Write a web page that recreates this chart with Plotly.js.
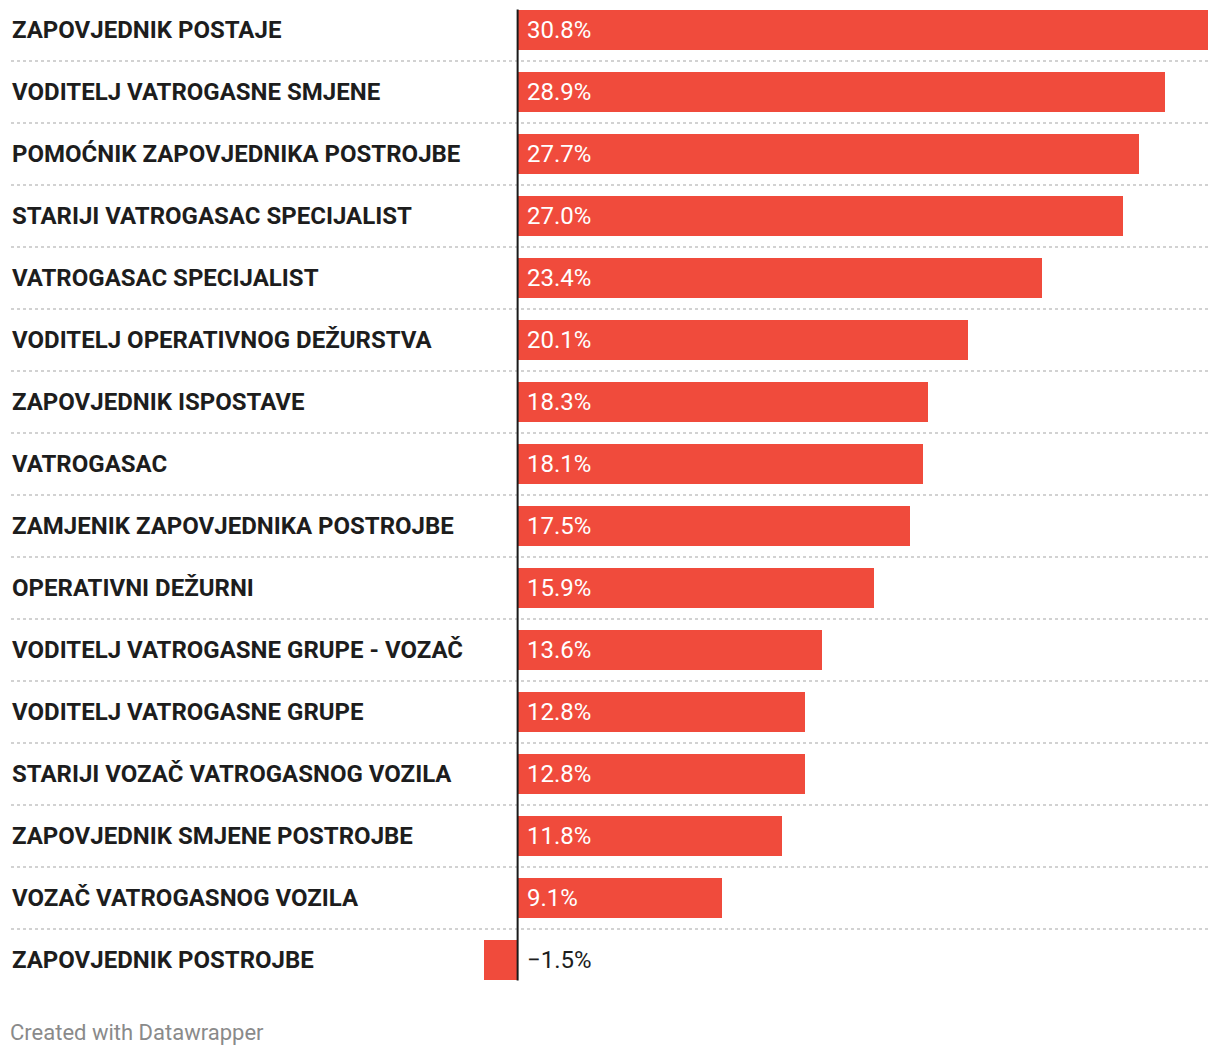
<!DOCTYPE html>
<html>
<head>
<meta charset="utf-8">
<script src="https://cdn.plot.ly/plotly-3.0.1.min.js"></script>
<style>
html,body{margin:0;padding:0;background:#fff;}
#chart{width:1220px;height:1056px;}
</style>
</head>
<body>
<div id="chart"></div>
<script>
const categories = [
  "ZAPOVJEDNIK POSTAJE",
  "VODITELJ VATROGASNE SMJENE",
  "POMOĆNIK ZAPOVJEDNIKA POSTROJBE",
  "STARIJI VATROGASAC SPECIJALIST",
  "VATROGASAC SPECIJALIST",
  "VODITELJ OPERATIVNOG DEŽURSTVA",
  "ZAPOVJEDNIK ISPOSTAVE",
  "VATROGASAC",
  "ZAMJENIK ZAPOVJEDNIKA POSTROJBE",
  "OPERATIVNI DEŽURNI",
  "VODITELJ VATROGASNE GRUPE - VOZAČ",
  "VODITELJ VATROGASNE GRUPE",
  "STARIJI VOZAČ VATROGASNOG VOZILA",
  "ZAPOVJEDNIK SMJENE POSTROJBE",
  "VOZAČ VATROGASNOG VOZILA",
  "ZAPOVJEDNIK POSTROJBE"
];
const values = [30.8, 28.9, 27.7, 27.0, 23.4, 20.1, 18.3, 18.1, 17.5, 15.9, 13.6, 12.8, 12.8, 11.8, 9.1, -1.5];

const BAR_COLOR = "#f04b3c";
const TEXT_DARK = "#1d1d1d";
const idx = categories.map((_, i) => i);

const W = 1220, H = 1056;
const marginL = 484, marginR = 12, marginT = 0, marginB = 64;
const plotW = W - marginL - marginR;
const labelPaperX = (10 - marginL) / plotW;
const linePaperX = (11 - marginL) / plotW;
const shift = 1 / 62;

const fmt = v => (v < 0 ? "\u2212" : "") + Math.abs(v).toFixed(1) + "%";

const trace = {
  type: "bar",
  orientation: "h",
  x: values,
  y: idx,
  width: 0.645,
  marker: {color: BAR_COLOR},
  hoverinfo: "skip"
};

const annotations = [];
categories.forEach((c, i) => {
  annotations.push({
    xref: "paper", yref: "y",
    x: labelPaperX, y: i,
    xanchor: "left", yanchor: "middle",
    text: c, showarrow: false,
    font: {family: "Roboto", size: 24, color: TEXT_DARK, weight: 700}
  });
  annotations.push({
    xref: "x", yref: "y",
    x: 0, y: i, xshift: 7,
    xanchor: "left", yanchor: "middle",
    text: fmt(values[i]), showarrow: false,
    font: {family: "Roboto", size: 24, color: values[i] >= 0 ? "#ffffff" : TEXT_DARK}
  });
});
annotations.push({
  xref: "paper", yref: "paper",
  x: (8 - marginL) / plotW, y: -(1032 - (H - marginB)) / (H - marginT - marginB),
  xanchor: "left", yanchor: "middle",
  text: "Created with Datawrapper", showarrow: false,
  font: {family: "Roboto", size: 22, color: "#8a8a8a"}
});

const shapes = [];
for (let i = 0; i < categories.length - 1; i++) {
  shapes.push({
    type: "line", xref: "paper", yref: "y",
    x0: linePaperX, x1: 1, y0: i + 0.5, y1: i + 0.5,
    line: {color: "#d2d2d2", width: 2, dash: "dot"},
    layer: "below"
  });
}
shapes.push({
  type: "line", xref: "x", yref: "y",
  x0: 0, x1: 0, y0: -0.33, y1: categories.length - 1 + 0.33,
  line: {color: "#1a1a1a", width: 2},
  layer: "above"
});

const layout = {
  width: W, height: H,
  margin: {l: marginL, r: marginR, t: marginT, b: marginB, pad: 0},
  paper_bgcolor: "#fff", plot_bgcolor: "#fff",
  showlegend: false,
  xaxis: {range: [-1.5, 30.8], showgrid: false, zeroline: false, showticklabels: false, ticks: "", fixedrange: true},
  yaxis: {range: [categories.length - 0.5 + shift, -0.5 + shift], showgrid: false, zeroline: false, showticklabels: false, ticks: "", fixedrange: true},
  annotations: annotations,
  shapes: shapes,
  bargap: 0
};

Plotly.newPlot("chart", [trace], layout, {displayModeBar: false, staticPlot: true});
</script>
</body>
</html>
